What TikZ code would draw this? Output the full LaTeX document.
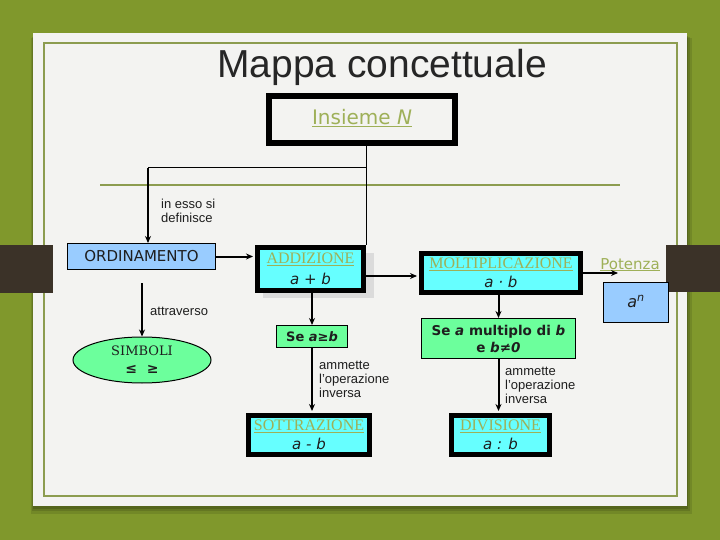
\documentclass[tikz,border=0pt]{standalone}
\usepackage{fontspec}
\setmainfont{DejaVu Sans}
\newfontfamily\tnr{Liberation Serif}
\newfontfamily\ari{Liberation Sans}
\newfontfamily\dvs{DejaVu Serif}
\usetikzlibrary{arrows.meta,shapes.geometric,calc}
\definecolor{bggreen}{RGB}{128,152,44}
\definecolor{panel}{RGB}{243,243,241}
\definecolor{frame}{RGB}{140,156,80}
\definecolor{linkol}{RGB}{158,176,88}
\definecolor{cyanbox}{RGB}{102,255,255}
\definecolor{bluebox}{RGB}{153,204,255}
\definecolor{greenbox}{RGB}{108,255,156}
\definecolor{tabbrown}{RGB}{59,50,40}
\definecolor{txt}{RGB}{30,30,30}
\newcommand{\fsz}[2]{\fontsize{#1}{#2}\selectfont}
\begin{document}
\begin{tikzpicture}[x=1pt,y=-1pt,
  thickbox/.style={draw=black, line width=5pt, fill=cyanbox, inner sep=0pt, align=center, text=txt},
  thinbox/.style={draw=black, line width=1pt, inner sep=0pt, align=center, text=txt},
  conn/.style={line width=2pt, -{Stealth[length=7pt,width=6pt]}},
  thinline/.style={line width=1pt},
  lbl/.style={font=\ari\fsz{13}{14}, align=left, inner sep=0pt, text=txt},
  linktxt/.style={text=linkol}]
\useasboundingbox (0,0) rectangle (720,540);
% background
\fill[bggreen] (0,0) rectangle (720,540);
\fill[black,opacity=0.10] (31,38) rectangle (692,514);
\fill[black,opacity=0.12] (32,37) rectangle (690,511);
\fill[black,opacity=0.15] (33,36) rectangle (688,509);
\fill[panel] (33,33) rectangle (687,506);
\draw[frame,line width=2pt] (44,43) rectangle (677,496);
\fill[tabbrown] (0,245) rectangle (53,293);
\fill[tabbrown] (666,245) rectangle (720,292);
% title
\node[anchor=base, font=\ari\fsz{39}{42}, text=black!85, inner sep=0pt] (title) at (382,78) {Mappa concettuale};
% separator
\draw[frame, line width=2.5pt] (100,185) -- (620,185);
% nodes
\node[draw=black, line width=6pt, minimum width=186pt, minimum height=47pt, inner sep=0pt] (ins) at (362,119.5)
  {\raisebox{5pt}{\fsz{20}{20}\color{linkol}\underline{Insieme \textit{N}}}};
\node[thinbox, fill=bluebox, minimum width=148pt, minimum height=26pt, font=\fsz{15}{15}] (ord) at (141.5,256.5) {ORDINAMENTO};
\fill[black!14] (263,253) rectangle (374,298);
\node[thickbox, minimum width=106pt, minimum height=43pt, font=\fsz{15}{21}] (add) at (310.5,269)
  {{\tnr\fsz{16}{21}\color{linkol}\underline{ADDIZIONE}}\\\textit{a + b}};
\node[thickbox, minimum width=159pt, minimum height=39pt, font=\fsz{15}{19}] (molt) at (501,273)
  {{\tnr\fsz{16}{19}\color{linkol}\underline{MOLTIPLICAZIONE}}\\\textit{a · b}};
\node[anchor=base, font=\fsz{15}{15}, linktxt, inner sep=0pt] (pot) at (630,269) {\underline{Potenza}};
\coordinate (potend) at (618,273);
\node[thinbox, fill=bluebox, minimum width=65pt, minimum height=40pt, font=\fsz{16}{16}] (pow) at (636,302.5)
  {\raisebox{2pt}{\textit{a}\textsuperscript{\textit{n}}}};
\node[ellipse, draw=black, line width=1pt, fill=greenbox, minimum width=138pt, minimum height=46pt, inner sep=0pt,
  align=center, text=txt, font=\dvs\fsz{13}{18}] (sim) at (142,360)
  {SIMBOLI\\{\bfseries\fsz{14}{18}≤\hspace{10pt}≥}};
\node[thinbox, fill=greenbox, minimum width=71pt, minimum height=22pt, font=\bfseries\fsz{13}{13}] (se) at (312,336.5)
  {Se \textit{a}≥\textit{b}};
\node[thickbox, minimum width=121pt, minimum height=39pt, font=\fsz{15}{19}] (sott) at (309,435)
  {{\tnr\fsz{16}{19}\color{linkol}\underline{SOTTRAZIONE}}\\\textit{a - b}};
\node[thinbox, fill=greenbox, minimum width=154pt, minimum height=40pt, font=\bfseries\fsz{13.5}{17}] (semul) at (498.5,338.5)
  {Se \textit{a} multiplo di \textit{b}\\e \textit{b}≠\textit{0}};
\node[thickbox, minimum width=98pt, minimum height=39pt, font=\fsz{15}{19}] (div) at (500.5,435)
  {{\tnr\fsz{16}{19}\color{linkol}\underline{DIVISIONE}}\\\textit{a : b}};
% labels
\node[lbl, anchor=north west] (l1) at (161,199) {in esso si\\definisce};
\node[lbl, anchor=west] (l2) at (150,311) {attraverso};
\node[lbl, anchor=north west] (l3) at (319,361) {ammette\\l’operazione\\inversa};
\node[lbl, anchor=north west] (l4) at (505,367) {ammette\\l’operazione\\inversa};
% connectors
\coordinate (j1) at (366,168);
\coordinate (j2) at (148,168);
\draw[thinline] (ins.south -| j1) -- (add.north -| j1);
\draw[thinline] (j1) -- (j2);
\draw[conn] (j2) -- (j2 |- ord.north);
\draw[conn, shorten >=2pt] (ord.east) -- (ord.east -| add.west);
\draw[conn, shorten >=2pt] ([yshift=-7pt]add.east) -- ([yshift=-7pt]add.east -| molt.west);
\draw[conn] (molt.east) -- (molt.east -| potend);
\coordinate (ordgap) at (142,283);
\draw[conn] (ordgap) -- (sim.north);
\draw[conn] (add.south -| se.north) -- (se.north);
\draw[conn, shorten >=2pt] (se.south) -- (se.south |- sott.north);
\draw[conn] (molt.south -| semul.north) -- (semul.north);
\draw[conn, shorten >=2pt] (semul.south) -- (semul.south |- div.north);
\end{tikzpicture}
\end{document}
